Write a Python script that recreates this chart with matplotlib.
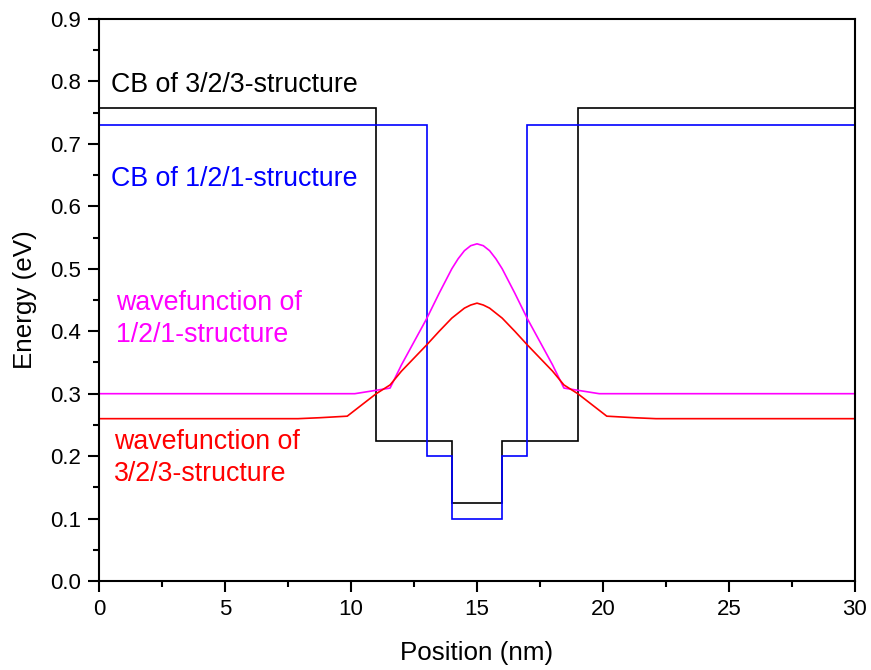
import numpy as np
import matplotlib
matplotlib.use("Agg")
import matplotlib.pyplot as plt
from matplotlib.ticker import MultipleLocator, FormatStrFormatter

plt.rcParams['font.family'] = ['Liberation Sans', 'DejaVu Sans']

# Conduction band profiles (stairs: edges + levels)
cb323_edges = [0, 11, 14, 16, 19, 30]
cb323_levels = [0.757, 0.225, 0.125, 0.225, 0.757]
cb121_edges = [0, 13, 14, 16, 17, 30]
cb121_levels = [0.730, 0.200, 0.100, 0.200, 0.730]

# Wavefunction of 1/2/1-structure (magenta)
wf121_x = [0, 10.15, 11.55, 12, 12.5, 13, 13.5, 14, 14.25, 14.5, 14.75, 15,
           15.25, 15.5, 15.75, 16, 16.5, 17, 17.5, 18, 18.45, 19.85, 30]
wf121_y = [0.300, 0.300, 0.309, 0.346, 0.383, 0.420, 0.461, 0.500, 0.516, 0.529, 0.537, 0.540,
           0.537, 0.529, 0.516, 0.500, 0.461, 0.420, 0.383, 0.346, 0.309, 0.300, 0.300]

# Wavefunction of 3/2/3-structure (red)
wf323_x = [0, 7.9, 8.75, 9.85, 11.0, 11.55, 12, 12.5, 13, 13.5, 14, 14.5, 14.75, 15,
           15.25, 15.5, 16, 16.5, 17, 17.5, 18, 18.45, 19.0, 20.15, 21.25, 22.1, 30]
wf323_y = [0.260, 0.260, 0.2615, 0.264, 0.300, 0.314, 0.336, 0.357, 0.378, 0.400, 0.421, 0.437, 0.442, 0.445,
           0.442, 0.437, 0.421, 0.400, 0.378, 0.357, 0.336, 0.314, 0.300, 0.264, 0.2615, 0.260, 0.260]

fig = plt.figure(figsize=(8.71, 6.70), dpi=100)
ax = fig.add_axes([0.1137, 0.1328, 0.9816 - 0.1137, 0.9716 - 0.1328])

lw = 1.2
ax.stairs(cb323_levels, cb323_edges, baseline=None, color='black', lw=lw)
ax.stairs(cb121_levels, cb121_edges, baseline=None, color='#0000FF', lw=lw)
ax.plot(wf121_x, wf121_y, color='#FF00FF', lw=lw)
ax.plot(wf323_x, wf323_y, color='#FF0000', lw=lw)

ax.set_xlim(0, 30)
ax.set_ylim(0, 0.9)
ax.xaxis.set_major_locator(MultipleLocator(5))
ax.xaxis.set_minor_locator(MultipleLocator(2.5))
ax.yaxis.set_major_locator(MultipleLocator(0.1))
ax.yaxis.set_minor_locator(MultipleLocator(0.05))
ax.yaxis.set_major_formatter(FormatStrFormatter('%.1f'))
ax.tick_params(which='major', direction='out', length=8, width=1.5, labelsize=16, pad=5)
ax.tick_params(which='minor', direction='out', length=4, width=1.5)
ax.tick_params(top=False, right=False, which='both')
for s in ax.spines.values():
    s.set_linewidth(1.5)

ax.set_xlabel('Position (nm)', fontsize=18.7, labelpad=15)
ax.set_ylabel('Energy (eV)', fontsize=18.7, labelpad=9)

fs = 19.3
ax.text(0.46, 0.795, 'CB of 3/2/3-structure', color='black', fontsize=fs, va='center')
ax.text(0.46, 0.644, 'CB of 1/2/1-structure', color='#0000FF', fontsize=fs, va='center')
ax.text(0.67, 0.446, 'wavefunction of', color='#FF00FF', fontsize=fs, va='center')
ax.text(0.67, 0.394, '1/2/1-structure', color='#FF00FF', fontsize=fs, va='center')
ax.text(0.60, 0.222, 'wavefunction of', color='#FF0000', fontsize=fs, va='center')
ax.text(0.60, 0.171, '3/2/3-structure', color='#FF0000', fontsize=fs, va='center')

fig.savefig('out.png', dpi=100)
